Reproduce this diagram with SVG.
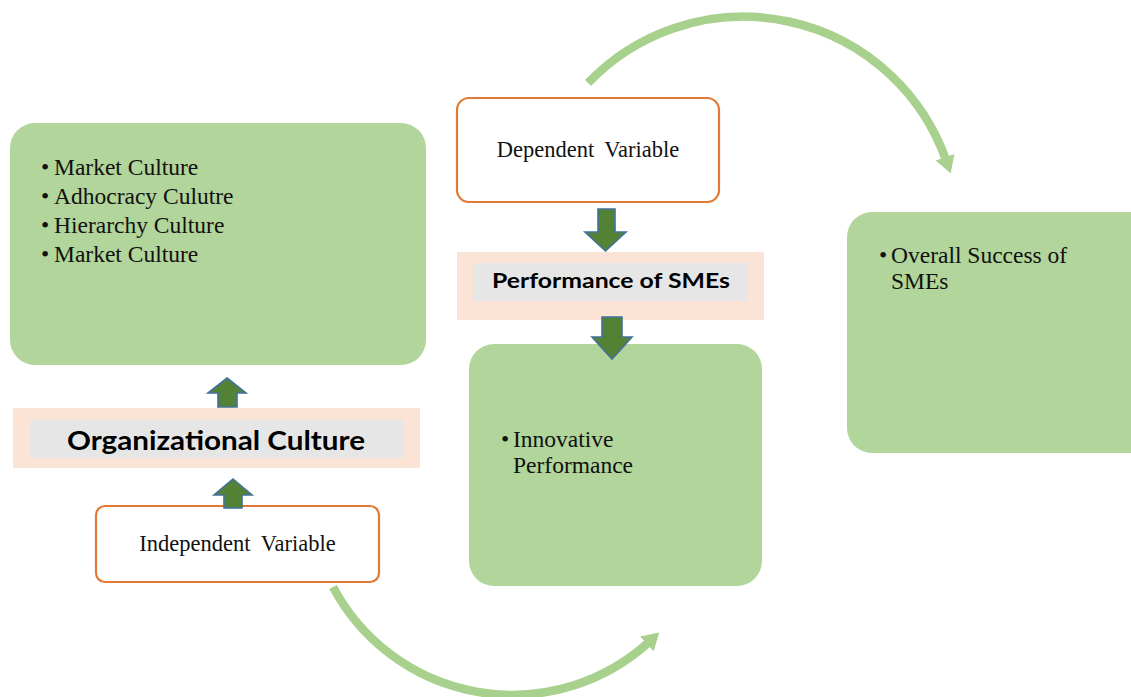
<svg xmlns="http://www.w3.org/2000/svg" width="1131" height="697" viewBox="0 0 1131 697">
<defs>
<style>
.green{fill:#b1d59a;}
.peach{fill:#fbe4d6;}
.gray{fill:#e7e6e6;}
.var{fill:#ffffff;stroke:#e07a34;stroke-width:2.2;}
.serif{font-family:"Liberation Serif","Times New Roman",serif;font-size:23.5px;fill:#111;}
.vtext{font-family:"Liberation Serif","Times New Roman",serif;font-size:22.5px;fill:#111;word-spacing:5px;}
.bold{font-family:Lato,"Liberation Sans",sans-serif;font-weight:bold;fill:#000;}
.blk{fill:#548235;stroke:#41719c;stroke-width:1.6;stroke-linejoin:miter;}
.arc{fill:none;stroke:#a9d18e;stroke-width:8.5;}
</style>
<marker id="head" markerUnits="userSpaceOnUse" markerWidth="24" markerHeight="24" refX="3" refY="10" orient="auto" viewBox="0 0 24 20">
<path d="M0,0 L17,10 L0,20 z" fill="#a9d18e"/>
</marker>
</defs>

<g id="culture-types">
<rect class="green" x="10" y="123" width="416" height="242" rx="25"/>
<text class="serif" x="41" y="175">•</text><text class="serif" x="54" y="175">Market Culture</text>
<text class="serif" x="41" y="204">•</text><text class="serif" x="54" y="204">Adhocracy Culutre</text>
<text class="serif" x="41" y="233">•</text><text class="serif" x="54" y="233">Hierarchy Culture</text>
<text class="serif" x="41" y="262">•</text><text class="serif" x="54" y="262">Market Culture</text>
</g>

<g id="organizational-culture">
<rect class="peach" x="13" y="408" width="407" height="60"/>
<rect class="gray" x="30" y="420" width="373" height="38"/>
<text class="bold" x="67" y="450" font-size="27" textLength="298" lengthAdjust="spacingAndGlyphs">Organizational Culture</text>
</g>

<g id="independent-variable">
<rect class="var" x="96" y="506" width="283" height="76" rx="9"/>
<text class="vtext" x="237.5" y="551" text-anchor="middle">Independent Variable</text>
</g>

<g id="dependent-variable">
<rect class="var" x="457" y="98" width="262" height="104" rx="12"/>
<text class="vtext" x="588" y="157" text-anchor="middle">Dependent Variable</text>
</g>

<g id="performance-of-smes">
<rect class="peach" x="457" y="252" width="307" height="68"/>
<rect class="gray" x="473" y="263" width="274" height="38"/>
<text class="bold" x="492" y="288" font-size="21" textLength="238" lengthAdjust="spacingAndGlyphs">Performance of SMEs</text>
</g>

<g id="innovative-performance">
<rect class="green" x="469" y="344" width="293" height="242" rx="25"/>
<text class="serif" x="501" y="447">•</text><text class="serif" x="513" y="447">Innovative</text>
<text class="serif" x="513" y="473">Performance</text>
</g>

<g id="overall-success">
<rect class="green" x="847" y="212" width="310" height="241" rx="25"/>
<text class="serif" x="879" y="263">•</text><text class="serif" x="891" y="263">Overall Success of</text>
<text class="serif" x="891" y="289">SMEs</text>
</g>

<g id="connectors">
<path class="arc" d="M 588 83 A 215 215 0 0 1 946 160" marker-end="url(#head)"/>
<path class="arc" d="M 333 587 A 203 203 0 0 0 649 642" marker-end="url(#head)"/>
<polygon class="blk" points="227,378 246,393 237,393 237,407 218,407 218,393 208,393"/>
<polygon class="blk" points="233,479 252,495 242,495 242,508 224,508 224,495 214,495"/>
<polygon class="blk" points="598,209 615,209 615,232 626,232 605.5,251 585,232 598,232"/>
<polygon class="blk" points="602,317 622,317 622,337 632,337 612,359 592,337 602,337"/>
</g>
</svg>
